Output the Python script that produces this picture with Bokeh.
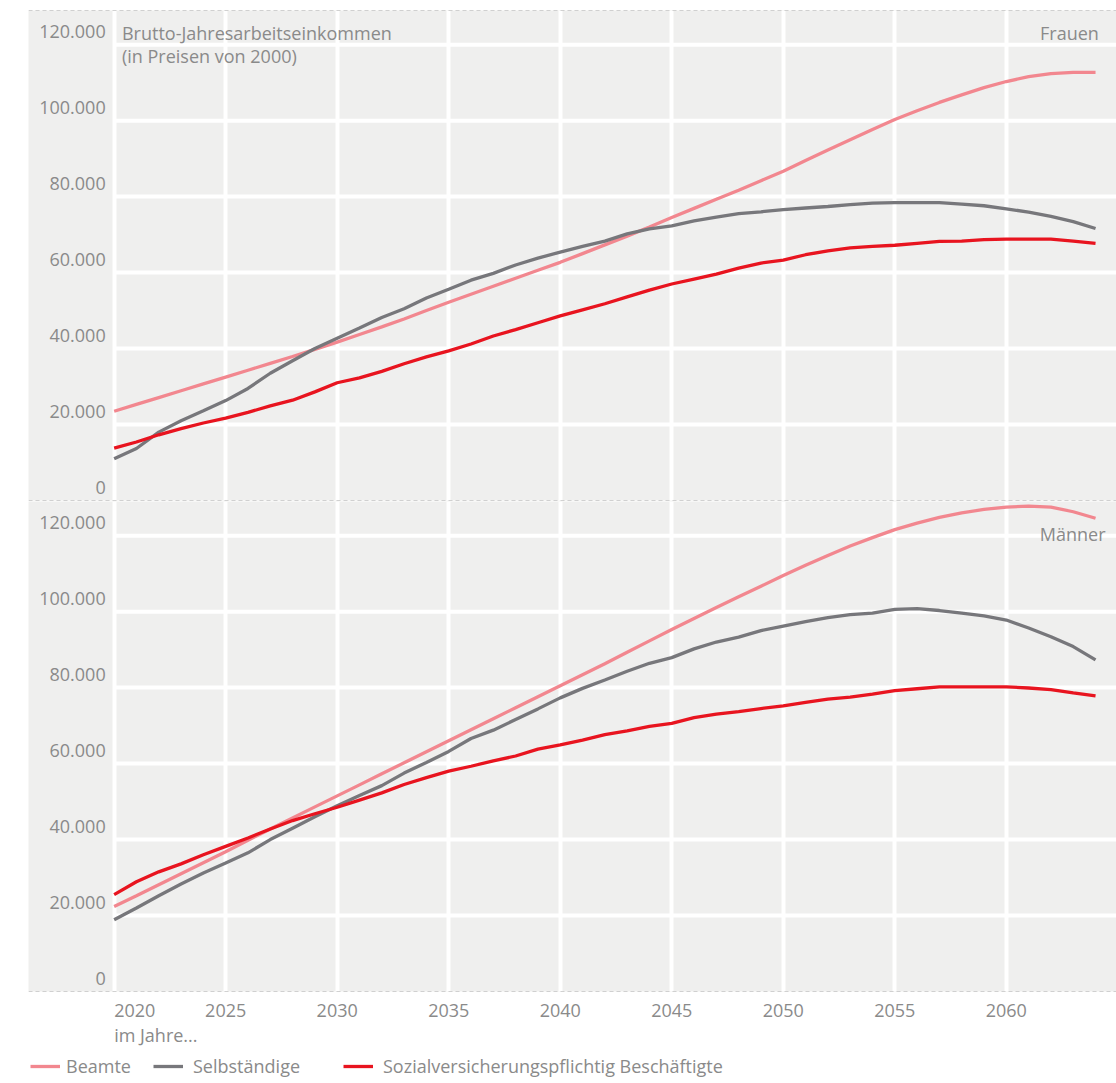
from bokeh.plotting import figure
from bokeh.models import (ColumnDataSource, FixedTicker, Range1d, Span, Label,
                          Legend, LegendItem, Grid)
from bokeh.layouts import column
from bokeh.embed import file_html
from bokeh.resources import INLINE
from bokeh.core.properties import value

# ---------------- data (values in thousand EUR, prices of 2000) ----------------
years = list(range(2020, 2065))

frauen_beamte = [23.5, 25.3, 27.1, 28.9, 30.7, 32.5, 34.3, 36.1, 37.9, 39.8,
                 41.7, 43.7, 45.7, 47.8, 50.0, 52.2, 54.3, 56.4, 58.5, 60.6,
                 62.7, 65.0, 67.3, 69.6, 72.0, 74.5, 76.9, 79.3, 81.7, 84.2,
                 86.7, 89.5, 92.3, 95.0, 97.7, 100.3, 102.6, 104.8, 106.8, 108.7,
                 110.3, 111.6, 112.4, 112.7, 112.7]
frauen_selbst = [11.0, 13.7, 18.0, 21.0, 23.6, 26.3, 29.5, 33.5, 36.8, 40.0,
                 42.7, 45.4, 48.2, 50.5, 53.3, 55.6, 58.0, 59.8, 62.0, 63.8,
                 65.4, 66.9, 68.3, 70.2, 71.5, 72.3, 73.6, 74.6, 75.5, 76.0,
                 76.6, 77.0, 77.4, 77.9, 78.3, 78.4, 78.4, 78.4, 78.0, 77.6,
                 76.8, 75.9, 74.8, 73.4, 71.6]
frauen_sozial = [13.8, 15.4, 17.3, 18.9, 20.4, 21.7, 23.2, 24.9, 26.4, 28.6,
                 31.0, 32.3, 34.0, 36.0, 37.8, 39.4, 41.2, 43.3, 45.0, 46.8,
                 48.6, 50.2, 51.8, 53.6, 55.4, 57.0, 58.3, 59.6, 61.2, 62.5,
                 63.3, 64.7, 65.7, 66.5, 66.9, 67.2, 67.7, 68.2, 68.3, 68.7,
                 68.8, 68.8, 68.8, 68.3, 67.7]

maenner_beamte = [22.4, 25.2, 28.1, 31.0, 33.9, 36.8, 39.8, 42.8, 45.7, 48.6,
                  51.5, 54.4, 57.3, 60.2, 63.1, 66.0, 68.9, 71.8, 74.7, 77.6,
                  80.5, 83.4, 86.3, 89.3, 92.3, 95.3, 98.2, 101.1, 103.9, 106.7,
                  109.5, 112.2, 114.8, 117.3, 119.5, 121.6, 123.3, 124.8, 126.0, 126.9,
                  127.5, 127.8, 127.5, 126.3, 124.6]
maenner_selbst = [18.9, 22.0, 25.2, 28.3, 31.2, 33.8, 36.5, 40.0, 43.0, 46.0,
                  48.9, 51.6, 54.2, 57.5, 60.3, 63.2, 66.6, 68.8, 71.6, 74.4,
                  77.3, 79.8, 82.0, 84.3, 86.4, 87.9, 90.2, 92.0, 93.3, 95.0,
                  96.2, 97.4, 98.4, 99.2, 99.6, 100.6, 100.8, 100.3, 99.6, 98.9,
                  97.8, 95.7, 93.4, 90.8, 87.3]
maenner_sozial = [25.5, 28.9, 31.5, 33.6, 36.0, 38.2, 40.4, 42.8, 45.0, 46.8,
                  48.5, 50.4, 52.3, 54.5, 56.3, 58.0, 59.3, 60.7, 62.0, 63.8,
                  64.9, 66.2, 67.6, 68.6, 69.8, 70.6, 72.1, 73.0, 73.7, 74.5,
                  75.2, 76.1, 77.0, 77.5, 78.3, 79.2, 79.7, 80.2, 80.2, 80.2,
                  80.2, 79.9, 79.5, 78.6, 77.8]

series_names = ["Beamte", "Selbständige", "Sozialversicherungspflichtig Beschäftigte"]

y_ticks = [0, 20, 40, 60, 80, 100, 120]
y_tick_labels = ["0", "20.000", "40.000", "60.000", "80.000", "100.000", "120.000"]
x_grid_years = [2020, 2025, 2030, 2035, 2040, 2045, 2050, 2055, 2060]
x_tick_labels = ["2020", "2025", "2030", "2035", "2040", "2045", "2050", "2055", "2060"]

# ---------------- style ----------------
FONT = "Open Sans"
FS = "18px"
TXT = "#8a8a8a"
BG = "#efefee"
COLORS = ["#f2878f", "#77777b", "#e8141f"]
DASH = "#a9a9a9"
LW = 3.3

W = 1116
X0, X1 = 2016.16, 2064.94
Y1 = 129.0
FOOT_H = 91


def make_panel(height, mb_top, mb_bottom):
    p = figure(width=W, height=height,
               x_range=Range1d(X0, X1), y_range=Range1d(0, Y1),
               output_backend="svg", toolbar_location=None,
               x_axis_location=None, y_axis_location=None,
               min_border_left=28, min_border_right=0,
               min_border_top=mb_top, min_border_bottom=mb_bottom,
               background_fill_color=BG, border_fill_color="white",
               outline_line_color=None)
    p.xgrid.visible = False
    p.ygrid.visible = False
    p.add_layout(Grid(dimension=0, ticker=FixedTicker(ticks=x_grid_years),
                      grid_line_color="white", grid_line_width=4))
    hsrc = ColumnDataSource(dict(v=y_ticks[1:]))
    p.segment(x0=2020, x1=X1 + 1, y0="v", y1="v", source=hsrc,
              line_color="white", line_width=4, level="underlay")
    tsrc = ColumnDataSource(dict(v=y_ticks, t=y_tick_labels))
    p.text(x=2019.62, y="v", text="t", source=tsrc, text_align="right",
           text_baseline="alphabetic", y_offset=-13, text_font=value(FONT),
           text_font_size=FS, text_color=TXT)
    p.add_layout(Span(location=0, dimension="width", line_color=DASH,
                      line_dash="4 3", line_width=1))
    return p


def add_lines(p, data, **kw):
    rs = []
    for vals, col in zip(data, COLORS):
        rs.append(p.line(years, vals, line_color=col, line_width=LW, **kw))
    return rs


def txt_label(**kw):
    return Label(text_font=FONT, text_font_size=FS, text_color=TXT, **kw)


# ---------------- top: Frauen ----------------
top = make_panel(501, 10, 1)
add_lines(top, [frauen_beamte, frauen_selbst, frauen_sozial])
top.add_layout(Span(location=Y1, dimension="width", line_color=DASH,
                    line_dash="4 3", line_width=1))
top.add_layout(txt_label(x=2020.35, y=120, text="Brutto-Jahresarbeitseinkommen",
                         text_align="left", text_baseline="bottom"))
top.add_layout(txt_label(x=2020.35, y=113.95, text="(in Preisen von 2000)",
                         text_align="left", text_baseline="bottom"))
top.add_layout(txt_label(x=2064.15, y=120, text="Frauen",
                         text_align="right", text_baseline="bottom"))

# ---------------- bottom: Männer ----------------
bot = make_panel(491, 0, 1)
add_lines(bot, [maenner_beamte, maenner_selbst, maenner_sozial])
bot.add_layout(txt_label(x=2064.45, y=117.2, text="Männer",
                         text_align="right", text_baseline="bottom"))

# ---------------- footer: x tick labels, axis caption, legend ----------------
foot = figure(width=W, height=FOOT_H, x_range=Range1d(X0, X1),
              y_range=Range1d(0, FOOT_H),
              output_backend="svg", toolbar_location=None,
              x_axis_location=None, y_axis_location=None,
              min_border_left=28, min_border_right=0,
              min_border_top=0, min_border_bottom=0,
              background_fill_color="white", border_fill_color="white",
              outline_line_color=None)
foot.xgrid.visible = False
foot.ygrid.visible = False
# separate, far-away range so the legend-only lines stay out of view
foot.extra_y_ranges = {"hidden": Range1d(1000, 2000)}

xsrc = ColumnDataSource(dict(x=x_grid_years, t=x_tick_labels,
                             a=["left"] + ["center"] * (len(x_grid_years) - 1)))
foot.text(x="x", y=73, text="t", source=xsrc, text_align="a",
          text_baseline="middle", text_font=value(FONT),
          text_font_size=FS, text_color=TXT)
foot.add_layout(Label(x=2020, y=49, x_units="data", y_units="screen",
                      text="im Jahre...", text_font=FONT, text_font_size=FS,
                      text_color=TXT, text_align="left", text_baseline="middle"))

leg_rs = add_lines(foot, [maenner_beamte, maenner_selbst, maenner_sozial],
                   y_range_name="hidden")
leg_x = [2, 125, 315]
leg_standoff = [6, 10, 10]
for name, r, lx, so in zip(series_names, leg_rs, leg_x, leg_standoff):
    lg = Legend(items=[LegendItem(label=name, renderers=[r])],
                location=(lx, 5), orientation="horizontal",
                glyph_width=30, glyph_height=20, label_height=20,
                label_standoff=so, spacing=0, padding=0, margin=0,
                label_text_font=FONT, label_text_font_size=FS,
                label_text_color=TXT, background_fill_alpha=0,
                border_line_color=None)
    foot.add_layout(lg, "center")

layout = column(top, bot, foot, spacing=0)
open("out.html", "w").write(file_html(layout, INLINE))
